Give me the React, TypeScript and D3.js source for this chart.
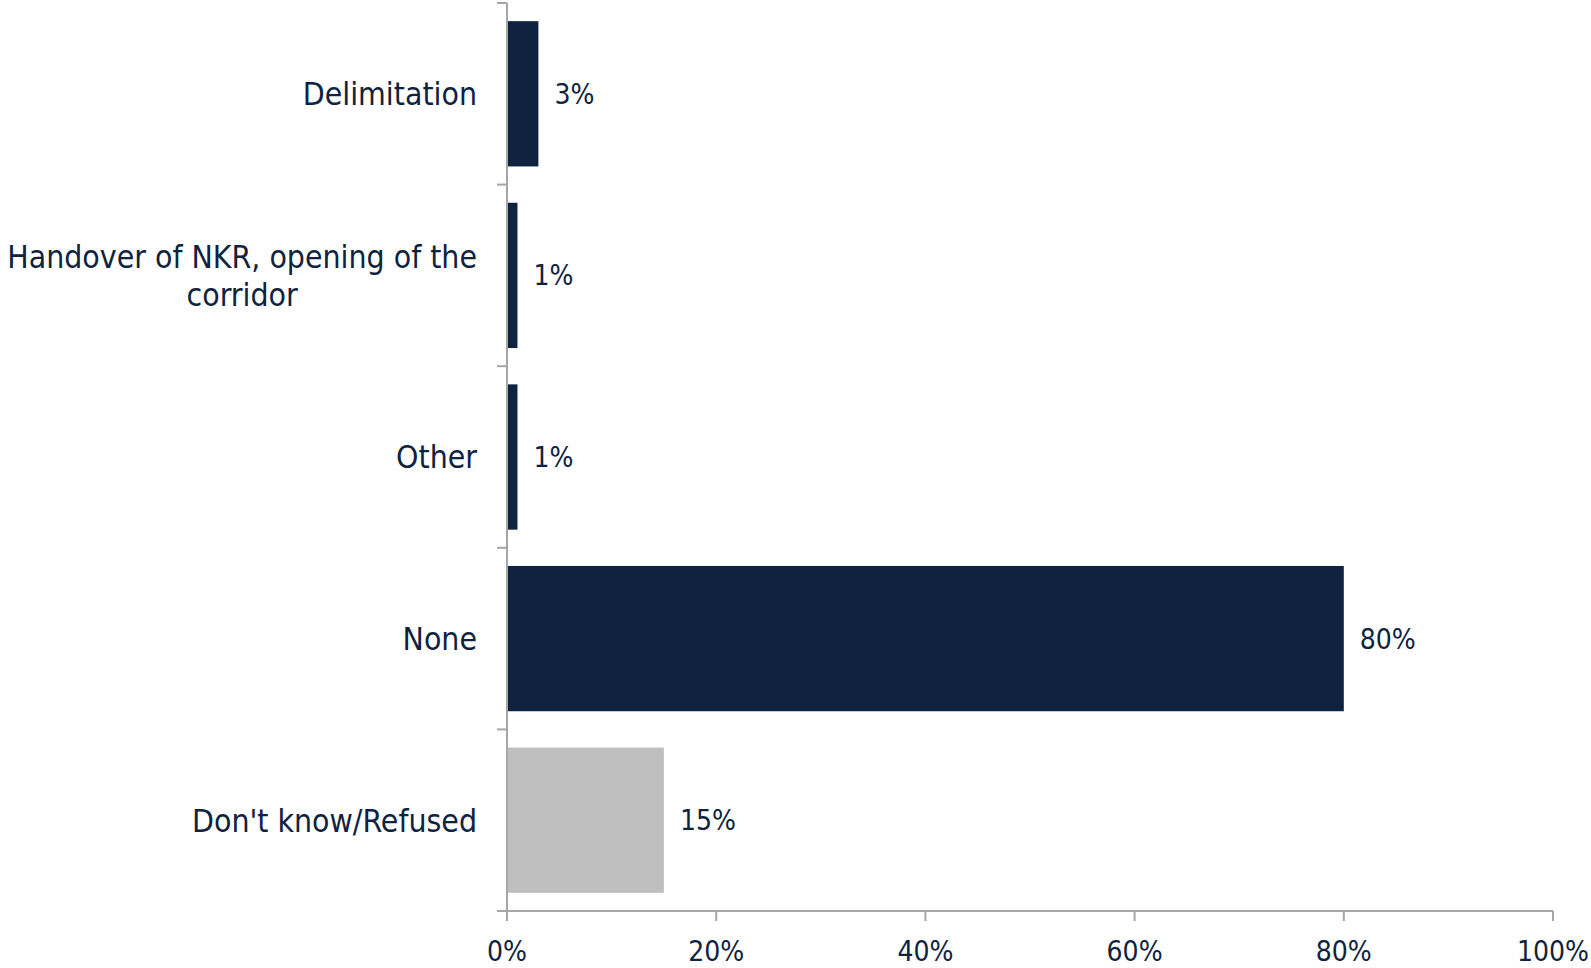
import React, { useEffect, useRef } from 'react';
import * as d3 from 'd3';

const categories = ['Delimitation', 'Handover of NKR, opening of the corridor', 'Other', 'None', "Don't know/Refused"];
const labelLines = [['Delimitation'], ['Handover of NKR, opening of the', 'corridor'], ['Other'], ['None'], ["Don't know/Refused"]];
const values = [3, 1, 1, 80, 15];
const barColors = ['#0f2340', '#0f2340', '#0f2340', '#0f2340', '#bfbfbf'];
const xTicks = [0, 20, 40, 60, 80, 100];

const W = 1591;
const H = 968;

const App: React.FC = () => {
  const ref = useRef<SVGSVGElement>(null);

  useEffect(() => {
    if (!ref.current) return;
    const svg = d3.select(ref.current);
    svg.selectAll('*').remove();

    const font = "'DejaVu Sans Condensed', 'DejaVu Sans', sans-serif";
    const textColor = '#0f2340';
    const axisColor = '#a6a6a6';
    const left = 507;
    const right = 1553;
    const top = 3;
    const bottom = 911;

    const x = d3.scaleLinear().domain([0, 100]).range([left, right]);
    const y = d3.scaleBand().domain(categories).range([top, bottom]).paddingInner(0.2).paddingOuter(0.1);
    const step = y.step();

    // bars
    svg.append('g').selectAll('rect')
      .data(categories)
      .join('rect')
      .attr('x', x(0))
      .attr('y', d => y(d)!)
      .attr('width', (d, i) => x(values[i]) - x(0))
      .attr('height', y.bandwidth())
      .attr('fill', (d, i) => barColors[i]);

    // value labels
    svg.append('g').selectAll('text')
      .data(categories)
      .join('text')
      .attr('x', (d, i) => x(values[i]) + 16)
      .attr('y', d => y(d)! + y.bandwidth() / 2)
      .attr('dy', '0.36em')
      .attr('fill', textColor)
      .style('font-family', font)
      .style('font-size', '28px')
      .text((d, i) => `${values[i]}%`);

    // y axis line + ticks at band boundaries
    const ya = svg.append('g');
    ya.append('line')
      .attr('x1', left).attr('x2', left)
      .attr('y1', top).attr('y2', bottom)
      .attr('stroke', axisColor).attr('stroke-width', 2);
    d3.range(categories.length + 1).forEach(i => {
      const yy = top + i * step;
      ya.append('line')
        .attr('x1', left - 10).attr('x2', left)
        .attr('y1', yy).attr('y2', yy)
        .attr('stroke', axisColor).attr('stroke-width', 2);
    });

    // category labels
    const lg = svg.append('g');
    categories.forEach((c, i) => {
      const lines = labelLines[i];
      const cy = y(c)! + y.bandwidth() / 2;
      const lh = 37.5;
      const t = lg.append('text')
        .attr('fill', textColor)
        .style('font-family', font)
        .style('font-size', '31.7px');
      const spans = lines.map((ln, j) => t.append('tspan')
        .attr('y', cy + (j - (lines.length - 1) / 2) * lh)
        .attr('dy', '0.36em')
        .text(ln));
      if (lines.length === 1) {
        t.attr('text-anchor', 'end');
        spans[0].attr('x', 477);
      } else {
        const widths = spans.map(s => (s.node() as SVGTextContentElement).getComputedTextLength());
        const maxW = d3.max(widths)!;
        t.attr('text-anchor', 'middle');
        spans.forEach(s => s.attr('x', 477 - maxW / 2));
      }
    });

    // x axis
    const xa = svg.append('g');
    xa.append('line')
      .attr('x1', left - 10).attr('x2', right)
      .attr('y1', bottom).attr('y2', bottom)
      .attr('stroke', axisColor).attr('stroke-width', 2);
    xTicks.forEach(v => {
      xa.append('line')
        .attr('x1', x(v)).attr('x2', x(v))
        .attr('y1', bottom).attr('y2', bottom + 10)
        .attr('stroke', axisColor).attr('stroke-width', 2);
      xa.append('text')
        .attr('x', x(v))
        .attr('y', 951)
        .attr('dy', '0.36em')
        .attr('text-anchor', 'middle')
        .attr('fill', textColor)
        .style('font-family', font)
        .style('font-size', '28px')
        .text(`${v}%`);
    });
  }, []);

  return (
    <svg
      ref={ref}
      width={W}
      height={H}
      style={{ position: 'absolute', left: 0, top: 0, background: '#fff' }}
    ></svg>
  );
};

export default App;
